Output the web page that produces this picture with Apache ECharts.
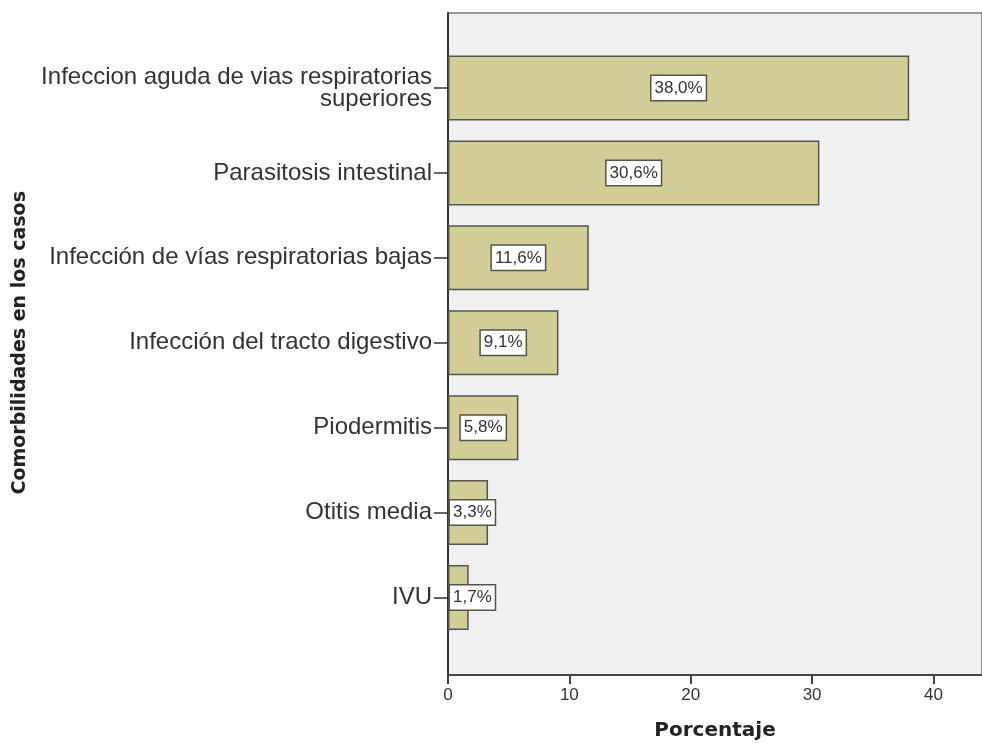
<!DOCTYPE html>
<html>
<head>
<meta charset="utf-8">
<script src="https://cdn.jsdelivr.net/npm/echarts@6/dist/echarts.min.js"></script>
<style>
  html, body { margin: 0; padding: 0; background: #ffffff; }
  #chart { width: 982px; height: 746px; }
</style>
</head>
<body>
<div id="chart"></div>
<script>
// Comorbidity categories, top to bottom
const categories = [
  'Infeccion aguda de vias respiratorias\nsuperiores',
  'Parasitosis intestinal',
  'Infección de vías respiratorias bajas',
  'Infección del tracto digestivo',
  'Piodermitis',
  'Otitis media',
  'IVU'
];
// Percentage of cases for each comorbidity
const percentages = [38.0, 30.6, 11.6, 9.1, 5.8, 3.3, 1.7];
// Axis ticks
const xTicks = [0, 10, 20, 30, 40];

const xMax = 44;
const xInterval = xTicks[1] - xTicks[0];

const fmt = v => v.toFixed(1).replace('.', ',') + '%';

// two-line labels sit a little below their tick
const categoryItems = categories.map(c => (
  c.indexOf('\n') >= 0 ? { value: c, textStyle: { padding: [10, 0, 0, 0] } } : c
));

const barData = percentages.map(v => ({
  value: v,
  label: v >= 5 ? { position: 'inside' } : { position: 'insideLeft', distance: 2 }
}));

const chart = echarts.init(document.getElementById('chart'), null, { renderer: 'canvas' });

chart.setOption({
  animation: false,
  backgroundColor: '#ffffff',
  grid: [
    // frame with the shaded plot area
    { left: 448, top: 13, width: 539, height: 663, show: true,
      backgroundColor: '#f0f0f0', borderColor: '#7a7a7a', borderWidth: 1.5 },
    // band area holding the bars
    { left: 448, top: 45.5, width: 539, height: 594.5 }
  ],
  xAxis: [
    {
      gridIndex: 0, type: 'value', min: 0, max: xMax, interval: xInterval,
      name: 'Porcentaje', nameLocation: 'middle', nameGap: 46,
      nameTextStyle: { fontFamily: 'DejaVu Sans', fontWeight: 'bold', fontSize: 20, color: '#222' },
      axisLine: { show: true, lineStyle: { color: '#444', width: 2 } },
      axisTick: { show: true, length: 9, lineStyle: { color: '#444', width: 2 } },
      axisLabel: { fontFamily: 'Liberation Sans', fontSize: 17, color: '#333', margin: 12,
                   showMaxLabel: false,
                   formatter: v => (xTicks.indexOf(v) >= 0 ? String(v) : '') },
      splitLine: { show: false }
    },
    {
      gridIndex: 1, type: 'value', min: 0, max: xMax, show: false
    }
  ],
  yAxis: [
    {
      gridIndex: 0, type: 'value', min: 0, max: 1,
      axisLine: { show: true, lineStyle: { color: '#333', width: 2 } },
      axisTick: { show: false }, axisLabel: { show: false }, splitLine: { show: false }
    },
    {
      gridIndex: 1, type: 'category', inverse: true, data: categoryItems,
      name: 'Comorbilidades en los casos', nameLocation: 'middle', nameGap: 418,
      nameRotate: 90,
      nameTextStyle: { fontFamily: 'DejaVu Sans', fontWeight: 'bold', fontSize: 19, color: '#222' },
      axisLine: { show: false },
      axisTick: { show: true, alignWithLabel: true, length: 14, lineStyle: { color: '#333', width: 1.5 } },
      axisLabel: { fontFamily: 'Liberation Sans', fontSize: 24, color: '#333', margin: 16,
                   lineHeight: 22, align: 'right' },
      splitLine: { show: false }
    }
  ],
  series: [
    {
      type: 'bar', xAxisIndex: 1, yAxisIndex: 1,
      data: barData,
      barWidth: 65,
      itemStyle: { color: '#d3ce98', borderColor: '#55554a', borderWidth: 1.5 },
      label: {
        show: true,
        formatter: p => fmt(p.value),
        fontFamily: 'Liberation Sans', fontSize: 17, color: '#333',
        backgroundColor: '#ffffff', borderColor: '#555548', borderWidth: 1.5,
        padding: [4, 3, 3, 3]
      }
    }
  ]
});
</script>
</body>
</html>
